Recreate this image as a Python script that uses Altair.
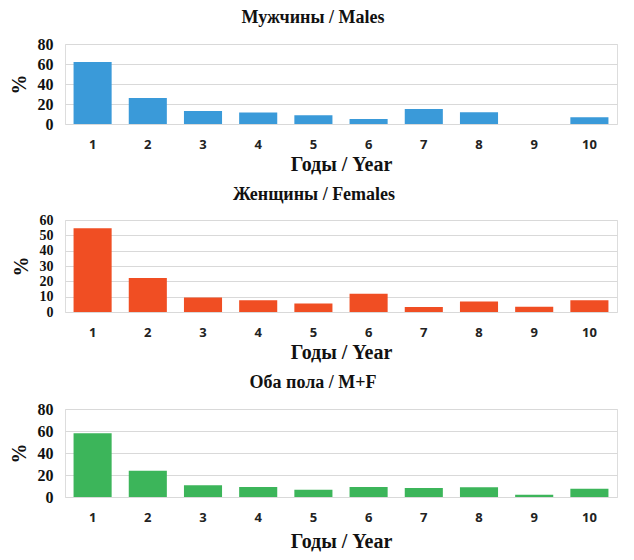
import altair as alt
import pandas as pd

years = [1, 2, 3, 4, 5, 6, 7, 8, 9, 10]
males = [62, 26, 13, 11.5, 8.7, 5, 15, 11.8, 0, 6.7]
females = [54.7, 22.2, 9.5, 7.7, 5.5, 11.9, 3.3, 6.8, 3.5, 7.7]
both = [58, 23.8, 10.6, 9.1, 6.6, 9.1, 8.2, 8.8, 2.1, 7.5]

titles = ["Мужчины / Males", "Женщины / Females", "Оба пола / M+F"]
colors = ["#3a9ad9", "#f04e23", "#3cb55a"]
y_max = [80, 60, 80]
y_step = [20, 10, 20]
heights = [80, 92, 88]
x_title_pad = [3, 3, 7]
y_label_size = [16, 14, 16]

series = [males, females, both]

panels = []
for i in range(3):
    df = pd.DataFrame({"year": years, "value": series[i]})
    ticks = list(range(0, y_max[i] + 1, y_step[i]))
    ch = alt.Chart(df).mark_bar(color=colors[i]).encode(
        x=alt.X("year:O", title="Годы / Year",
                scale=alt.Scale(paddingInner=0.31, paddingOuter=0.155),
                axis=alt.Axis(labelAngle=0, domain=False, ticks=False,
                              labelPadding=14, labelFont="Open Sans",
                              labelFontSize=13, labelFontWeight="bold",
                              labelColor="#222222",
                              titleFont="Liberation Serif", titleFontSize=20,
                              titleFontWeight="bold", titleColor="#111111",
                              titlePadding=x_title_pad[i])),
        y=alt.Y("value:Q", title="%",
                scale=alt.Scale(domain=[0, y_max[i]], nice=False),
                axis=alt.Axis(values=ticks, domain=False, ticks=False,
                              labelOverlap=False,
                              gridColor="#d9d9d9", labelPadding=12,
                              labelFont="Liberation Serif",
                              labelFontSize=y_label_size[i],
                              labelFontWeight="bold", labelColor="#111111",
                              titleFont="Liberation Serif", titleFontSize=20,
                              titleFontWeight="bold", titleColor="#111111",
                              titlePadding=8)),
    ).properties(
        width=552, height=heights[i],
        title=alt.TitleParams(titles[i], font="Liberation Serif", fontSize=18,
                              fontWeight="bold", color="#111111",
                              anchor="middle", frame="bounds", offset=9),
    )
    panels.append(ch)

chart = alt.vconcat(*panels, spacing=10).properties(padding=0).configure_view(
    stroke=None
).configure(background="white")

chart.save("out.html", embed_options={"renderer": "svg", "actions": False})
